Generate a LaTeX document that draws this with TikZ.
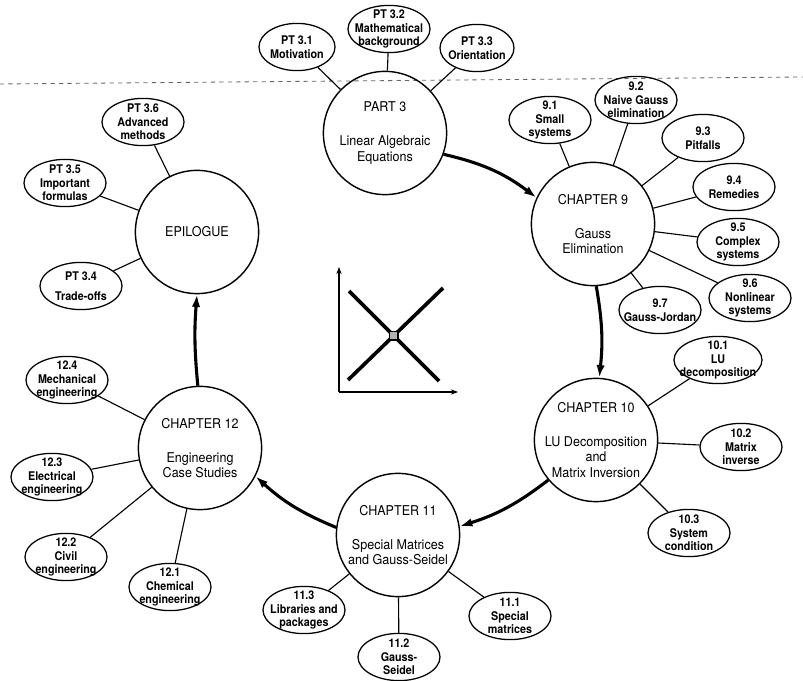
\documentclass[tikz,border=0pt]{standalone}
\usepackage{fontspec}
\setmainfont{TeX Gyre Heros}
\newfontfamily\chapterfont[FakeStretch=0.93]{TeX Gyre Heros}
\newfontfamily\topicfont[FakeStretch=0.9]{TeX Gyre Heros}
\usetikzlibrary{shapes.geometric, arrows.meta}
\tikzstyle{chapter} = [draw, circle, line width=1pt, minimum size=3.08cm, inner sep=-1cm, align=center, font=\chapterfont\fontsize{9.6}{11.2}\selectfont]
\tikzstyle{topic} = [draw, ellipse, line width=0.9pt, minimum width=2.05cm, minimum height=1.18cm, inner sep=-1cm, align=center, font=\topicfont\bfseries\fontsize{8.5}{9.6}\selectfont]
\tikzstyle{link} = [line width=0.8pt]
\tikzstyle{flow} = [line width=2.2pt, -{Latex[length=9pt,width=6pt]}]

\begin{document}
\begin{tikzpicture}[x=0.025cm, y=-0.025cm]

    \useasboundingbox (0,0) rectangle (803,681);

    % Page fold
    \coordinate (FoldL) at (0,84);
    \coordinate (FoldR) at (803,77);
    \draw[gray!80!black, dashed, line width=0.6pt] (FoldL) -- (FoldR);

    % Main circles
    \node[chapter] (Part3) at (385,133) {PART 3\\[13pt]Linear Algebraic\\Equations};
    \node[chapter] (Ch9) at (593,224) {CHAPTER 9\\[13pt]Gauss\\Elimination};
    \node[chapter] (Ch10) at (596,440) {CHAPTER 10\\[13pt]LU Decomposition\\and\\Matrix Inversion};
    \node[chapter] (Ch11) at (398,535) {CHAPTER 11\\[13pt]Special Matrices\\and Gauss-Seidel};
    \node[chapter] (Ch12) at (200,448) {CHAPTER 12\\[13pt]Engineering\\Case Studies};
    \node[chapter] (Epi) at (197,232) {EPILOGUE};

    % Part 3 topics
    \node[topic, minimum width=1.9cm] (PT31) at (297,47) {PT 3.1\\Motivation};
    \node[topic] (PT32) at (389,29) {PT 3.2\\Mathematical\\background};
    \node[topic, minimum width=1.85cm] (PT33) at (477,48) {PT 3.3\\Orientation};

    % Chapter 9 topics
    \node[topic] (S91) at (550,120) {9.1\\Small\\systems};
    \node[topic] (S92) at (636,100) {9.2\\Naive Gauss\\elimination};
    \node[topic] (S93) at (703,138) {9.3\\Pitfalls};
    \node[topic] (S94) at (734,187) {9.4\\Remedies};
    \node[topic] (S95) at (738,242) {9.5\\Complex\\systems};
    \node[topic] (S96) at (750,298) {9.6\\Nonlinear\\systems};
    \node[topic] (S97) at (660,310) {9.7\\Gauss-Jordan};

    % Chapter 10 topics
    \node[topic, minimum width=2.2cm] (S101) at (718,360) {10.1\\LU\\decomposition};
    \node[topic] (S102) at (741,447) {10.2\\Matrix\\inverse};
    \node[topic] (S103) at (689,533) {10.3\\System\\condition};

    % Chapter 11 topics
    \node[topic] (S111) at (510,616) {11.1\\Special\\matrices};
    \node[topic] (S112) at (399,657) {11.2\\Gauss-\\Seidel};
    \node[topic] (S113) at (304,610) {11.3\\Libraries and\\packages};

    % Chapter 12 topics
    \node[topic] (S121) at (170,587) {12.1\\Chemical\\engineering};
    \node[topic] (S122) at (66,557) {12.2\\Civil\\engineering};
    \node[topic] (S123) at (52,477) {12.3\\Electrical\\engineering};
    \node[topic] (S124) at (67,380) {12.4\\Mechanical\\engineering};

    % Epilogue topics
    \node[topic] (PT34) at (81,286) {PT 3.4\\[5pt]Trade-offs};
    \node[topic] (PT35) at (65,183) {PT 3.5\\Important\\formulas};
    \node[topic] (PT36) at (143,122) {PT 3.6\\Advanced\\methods};

    % Spokes
    \draw[link] (Part3) -- (PT31);
    \draw[link] (Part3) -- (PT32);
    \draw[link] (Part3) -- (PT33);
    \draw[link] (Ch9) -- (S91);
    \draw[link] (Ch9) -- (S92);
    \draw[link] (Ch9) -- (S93);
    \draw[link] (Ch9) -- (S94);
    \draw[link] (Ch9) -- (S95);
    \draw[link] (Ch9) -- (S96);
    \draw[link] (Ch9) -- (S97);
    \draw[link] (Ch10) -- (S101);
    \draw[link] (Ch10) -- (S102);
    \draw[link] (Ch10) -- (S103);
    \draw[link] (Ch11) -- (S111);
    \draw[link] (Ch11) -- (S112);
    \draw[link] (Ch11) -- (S113);
    \draw[link] (Ch12) -- (S121);
    \draw[link] (Ch12) -- (S122);
    \draw[link] (Ch12) -- (S123);
    \draw[link] (Ch12) -- (S124);
    \draw[link] (Epi) -- (PT34);
    \draw[link] (Epi) -- (PT35);
    \draw[link] (Epi) -- (PT36);

    % Reading order
    \draw[flow] (Part3.-20) to[bend left=12] (Ch9.155);
    \draw[flow] (Ch9.-87) to[bend left=8] (Ch10.87);
    \draw[flow] (Ch10.220) to[bend left=10] (Ch11.8);
    \draw[flow] (Ch11.173) to[bend left=10] (Ch12.-27);
    \draw[flow] (Ch12.92) to[bend left=5] (Epi.-90);

    % Axes in the middle
    \coordinate (Origin) at (339,392);
    \coordinate (YTip) at (339,267);
    \coordinate (XTip) at (458,392);
    \draw[line width=0.8pt, -{Stealth[length=5pt]}] (Origin) -- (YTip);
    \draw[line width=0.8pt, -{Stealth[length=5pt]}] (Origin) -- (XTip);

    % Crossing lines
    \coordinate (CrossA) at (349,291);
    \coordinate (CrossB) at (439,381);
    \coordinate (CrossC) at (443,288);
    \coordinate (CrossD) at (348,380);
    \draw[line width=2.6pt] (CrossA) -- (CrossB);
    \draw[line width=2.6pt] (CrossC) -- (CrossD);
    \node[draw, fill=gray!60, line width=0.8pt, minimum size=6pt, inner sep=0pt] (Hub)
        at (intersection of CrossA--CrossB and CrossC--CrossD) {};

\end{tikzpicture}
\end{document}
